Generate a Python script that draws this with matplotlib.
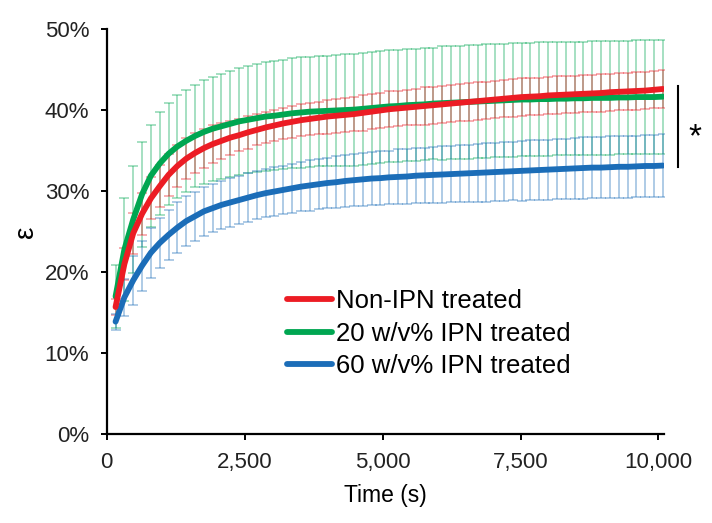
import matplotlib
matplotlib.use("Agg")
import matplotlib.pyplot as plt
from matplotlib.ticker import FuncFormatter, FixedLocator

plt.rcParams['font.family'] = ['Liberation Sans', 'DejaVu Sans']

time_s = [160, 320, 480, 640, 800, 960, 1120, 1280, 1440, 1600, 1760, 1920, 2080, 2240, 2400,
          2560, 2720, 2880, 3040, 3200, 3360, 3520, 3680, 3840, 4000, 4160, 4320, 4480, 4640,
          4800, 4960, 5120, 5280, 5440, 5600, 5760, 5920, 6080, 6240, 6400, 6560, 6720, 6880,
          7040, 7200, 7360, 7520, 7680, 7840, 8000, 8160, 8320, 8480, 8640, 8800, 8960, 9120,
          9280, 9440, 9600, 9760, 9920, 10080]

non_ipn = [15.7, 21.0, 24.8, 27.2, 29.1, 30.6, 32.0, 33.1, 34.0, 34.7, 35.3, 35.8, 36.2, 36.6, 36.9,
           37.25, 37.55, 37.85, 38.1, 38.35, 38.55, 38.75, 38.9, 39.05, 39.2, 39.3, 39.4, 39.5, 39.65,
           39.8, 39.95, 40.1, 40.2, 40.3, 40.4, 40.5, 40.6, 40.7, 40.8, 40.9, 41.0, 41.1, 41.2,
           41.3, 41.4, 41.5, 41.6, 41.65, 41.7, 41.8, 41.85, 41.9, 41.95, 42.0, 42.05, 42.1, 42.2,
           42.25, 42.3, 42.35, 42.4, 42.5, 42.6]
non_ipn_err = [1.0, 2.0, 2.5, 2.6, 2.6, 2.6, 2.6, 2.6, 2.5, 2.5, 2.4, 2.3, 2.2, 2.1, 2.0,
               2.0, 1.9, 1.9, 1.9, 1.9, 2.0, 2.0, 2.0, 2.0, 2.1, 2.1, 2.1, 2.1, 2.2,
               2.2, 2.2, 2.2, 2.2, 2.2, 2.2, 2.3, 2.3, 2.3, 2.3, 2.3, 2.3, 2.3, 2.3,
               2.3, 2.3, 2.3, 2.3, 2.3, 2.3, 2.3, 2.3, 2.3, 2.3, 2.3, 2.3, 2.3, 2.3,
               2.3, 2.3, 2.3, 2.3, 2.3, 2.3]

ipn20 = [17.0, 22.8, 26.5, 29.6, 31.9, 33.4, 34.6, 35.5, 36.2, 36.8, 37.3, 37.7, 38.0, 38.3, 38.6,
         38.8, 39.0, 39.2, 39.3, 39.45, 39.6, 39.7, 39.8, 39.85, 39.9, 39.95, 40.0, 40.05, 40.15,
         40.25, 40.35, 40.45, 40.5, 40.6, 40.65, 40.7, 40.8, 40.85, 40.9, 40.95, 41.0, 41.05, 41.1,
         41.15, 41.2, 41.25, 41.3, 41.3, 41.35, 41.35, 41.4, 41.4, 41.45, 41.45, 41.5, 41.5, 41.5,
         41.55, 41.55, 41.6, 41.6, 41.6, 41.65]
ipn20_err = [3.9, 6.3, 6.6, 6.5, 6.3, 6.3, 6.3, 6.3, 6.3, 6.3, 6.4, 6.4, 6.5, 6.5, 6.6,
             6.6, 6.7, 6.7, 6.7, 6.7, 6.8, 6.8, 6.8, 6.8, 6.8, 6.8, 6.9, 6.9, 6.9,
             6.9, 6.9, 6.9, 6.9, 6.9, 6.9, 6.9, 6.9, 7.0, 7.0, 7.0, 7.0, 7.0, 7.0,
             7.0, 7.0, 7.0, 7.0, 7.0, 7.0, 7.0, 7.0, 7.0, 7.0, 7.0, 7.0, 7.0, 7.0,
             7.0, 7.0, 7.0, 7.0, 7.0, 7.05]

ipn60 = [13.9, 16.9, 19.0, 20.8, 22.4, 23.6, 24.6, 25.5, 26.3, 26.9, 27.5, 27.9, 28.3, 28.6, 28.9,
         29.2, 29.5, 29.75, 29.95, 30.15, 30.35, 30.55, 30.7, 30.85, 31.0, 31.1, 31.25, 31.35, 31.45,
         31.55, 31.6, 31.7, 31.75, 31.8, 31.9, 31.95, 32.0, 32.05, 32.1, 32.15, 32.2, 32.25, 32.3,
         32.35, 32.4, 32.45, 32.5, 32.55, 32.6, 32.65, 32.7, 32.75, 32.8, 32.85, 32.9, 32.9, 32.95,
         33.0, 33.0, 33.05, 33.1, 33.1, 33.15]
ipn60_err = [1.0, 2.3, 3.0, 3.1, 3.1, 3.1, 3.1, 3.1, 3.1, 3.0, 3.0, 3.0, 3.0, 3.0, 3.0,
             3.0, 3.0, 3.0, 3.0, 3.0, 3.0, 3.0, 3.1, 3.1, 3.1, 3.2, 3.2, 3.2, 3.3,
             3.3, 3.3, 3.3, 3.4, 3.4, 3.4, 3.4, 3.5, 3.5, 3.5, 3.5, 3.5, 3.6, 3.6,
             3.6, 3.6, 3.6, 3.7, 3.7, 3.7, 3.7, 3.7, 3.7, 3.8, 3.8, 3.8, 3.8, 3.8,
             3.8, 3.8, 3.8, 3.85, 3.85, 3.85]

labels = ["Non-IPN treated", "20 w/v% IPN treated", "60 w/v% IPN treated"]
colors = ["#EC1C24", "#00A651", "#1B6DB8"]
x_ticks = [0, 2500, 5000, 7500, 10000]
y_ticks = [0, 10, 20, 30, 40, 50]
sig_span = (33.0, 43.0)

fig = plt.figure(figsize=(7.12, 5.23), dpi=100)
ax = fig.add_axes([0.1499, 0.1696, 0.7827, 0.7750])

series = [(non_ipn, non_ipn_err), (ipn20, ipn20_err), (ipn60, ipn60_err)]
# error bars first (behind lines); green drawn first
for idx in [1, 0, 2]:
    y, e = series[idx]
    ax.errorbar(time_s, y, yerr=e, fmt='none', ecolor=colors[idx], alpha=0.45,
                elinewidth=1.1, capsize=3.5, capthick=1.1, zorder=1)
handles = []
for idx, (y, e) in enumerate(series):
    h, = ax.plot(time_s, y, color=colors[idx], lw=4.2, solid_capstyle='round',
                 label=labels[idx], zorder=3 + (idx == 0))
    handles.append(h)

ax.set_xlim(0, 10100)
ax.set_ylim(0, 50)
ax.xaxis.set_major_locator(FixedLocator(x_ticks))
ax.yaxis.set_major_locator(FixedLocator(y_ticks))
ax.xaxis.set_major_formatter(FuncFormatter(lambda v, p: f"{int(v):,}"))
ax.yaxis.set_major_formatter(FuncFormatter(lambda v, p: f"{v:.0f}%"))

for s in ['top', 'right']:
    ax.spines[s].set_visible(False)
for s in ['left', 'bottom']:
    ax.spines[s].set_linewidth(1.6)
    ax.spines[s].set_color('black')
ax.tick_params(axis='both', direction='out', length=4.5, width=1.4, labelsize=16,
               colors='black', labelcolor='#222222')
ax.tick_params(axis='y', pad=8)
ax.tick_params(axis='x', pad=8)

ax.set_xlabel("Time (s)", fontsize=16.5, labelpad=8)
ax.set_ylabel("ε", fontsize=20, labelpad=4)

leg = ax.legend(handles=handles, loc='upper left', bbox_to_anchor=(0.403, 0.4465),
                bbox_transform=fig.transFigure, frameon=False, fontsize=18.5,
                handlelength=1.75, handletextpad=0.15, labelspacing=0.32, borderpad=0,
                borderaxespad=0)

# significance bracket
ax.plot([10350, 10350], list(sig_span), color='black', lw=1.5, clip_on=False)
ax.text(10660, 36.6, "*", fontsize=24, ha='center', va='center', clip_on=False)

fig.savefig("out.png", dpi=100)
